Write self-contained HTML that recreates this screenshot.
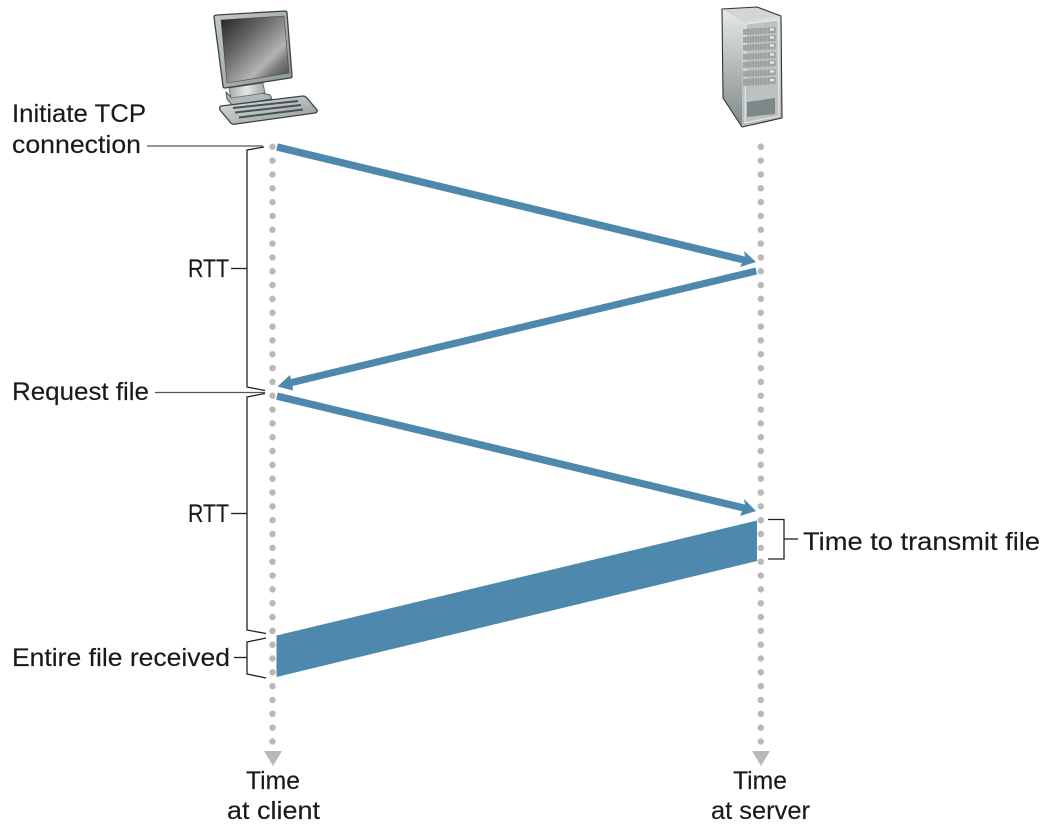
<!DOCTYPE html>
<html>
<head>
<meta charset="utf-8">
<style>
html,body{margin:0;padding:0;background:#fff;width:1044px;height:827px;overflow:hidden}
svg{display:block}
text{font-family:"Liberation Sans",sans-serif;font-size:25px;fill:#1a1a1a;stroke:#1a1a1a;stroke-width:.15px}
</style>
</head>
<body>
<svg width="1044" height="827" viewBox="0 0 1044 827" xmlns="http://www.w3.org/2000/svg">
<defs>
<linearGradient id="scr" x1="0" y1="0" x2="1" y2="1">
<stop offset="0" stop-color="#222"/><stop offset=".35" stop-color="#666"/><stop offset=".68" stop-color="#b4b4b4"/><stop offset=".8" stop-color="#777"/><stop offset="1" stop-color="#444"/>
</linearGradient>
<linearGradient id="bez" x1="0" y1="0" x2="1" y2="1">
<stop offset="0" stop-color="#c4caca"/><stop offset="1" stop-color="#8d9595"/>
</linearGradient>
<linearGradient id="kb" x1="0" y1="0" x2="1" y2="1">
<stop offset="0" stop-color="#dde1e1"/><stop offset="1" stop-color="#8f9898"/>
</linearGradient>
<linearGradient id="neck" x1="0" y1="0" x2="1" y2="0">
<stop offset="0" stop-color="#a8afaf"/><stop offset=".5" stop-color="#e4e7e7"/><stop offset="1" stop-color="#a0a8a8"/>
</linearGradient>
<linearGradient id="side" x1="0" y1="0" x2="0" y2="1">
<stop offset="0" stop-color="#e6e9e9"/><stop offset="1" stop-color="#7f8989"/>
</linearGradient>
<linearGradient id="front" x1="0" y1="0" x2="0" y2="1">
<stop offset="0" stop-color="#d9dddd"/><stop offset="1" stop-color="#b0b7b7"/>
</linearGradient>
<pattern id="rack" width="2.6" height="6" patternUnits="userSpaceOnUse">
<rect width="2.6" height="6" fill="#979e9e"/><rect width="1" height="6" fill="#adb3b3"/>
</pattern>
</defs>

<!-- Computer -->
<g stroke-linejoin="round">
<path d="M226 92 L231 97 L262 93 L270 95 L272 99 L232 105 L227 99 Z" fill="#b0b7b7" stroke="#555" stroke-width="1"/>
<path d="M229 88 L263 83 L265 93 L231 98 Z" fill="url(#neck)" stroke="#666" stroke-width=".8"/>
<path d="M214 17 Q214 15 217 15 L285 11 Q287 11 287 13 L292 76 Q292 78 290 78 L225 88 Q223 88 223 86 Z" fill="url(#bez)" stroke="#3d4343" stroke-width="1.300"/>
<path d="M221 20 L284 16 L289 73 L227 83 Z" fill="url(#scr)" stroke="#444" stroke-width=".6"/>
<path d="M221 106 L303 96 Q305 96 307 98 L317 110 Q318 112 315 113 L236 124 Q232 125 230 122 L220 110 Q219 107 221 106 Z" fill="url(#kb)" stroke="#3d4343" stroke-width="1.300"/>
<g stroke="#465056" stroke-width="2" fill="none">
<path d="M233 108 L298 101"/>
<path d="M235 112.500 L301 105"/>
<path d="M239 117.500 L303 109.500"/>
</g>
</g>

<!-- Server -->
<g stroke-linejoin="round">
<path d="M722 9 L757 7 L781 16 L743 22 Z" fill="#d2d6d6"/>
<path d="M722 9 L743 22 L742 127 L723 98 Z" fill="url(#side)"/>
<path d="M743 22 L781 16 L782 118 L742 127 Z" fill="url(#front)"/>
<path d="M722 9 L757 7 L781 16 L782 118 L742 127 L723 98 Z" fill="none" stroke="#333" stroke-width="1.100"/>
<path d="M746 24 L778 20 L779 116 L745 123 Z" fill="#bcc2c2" stroke="#eceeee" stroke-width="1"/>
<g fill="url(#rack)">
<path d="M743 29 L776 27 L776 33 L743 35 Z"/>
<path d="M743 37 L776 35 L776 41 L743 43 Z"/>
<path d="M743 45 L776 43 L776 49 L743 51 Z"/>
<path d="M743 54 L776 52 L776 58 L743 60 Z"/>
<path d="M743 62 L776 60 L776 66 L743 68 Z"/>
<path d="M743 71 L776 69 L776 75 L743 77 Z"/>
<path d="M743 79 L776 77 L776 84 L743 86 Z"/>
</g>
<g fill="#eef0f0">
<rect x="770" y="28.500" width="4" height="2"/><rect x="770" y="36.500" width="4" height="2"/><rect x="770" y="44.500" width="4" height="2"/><rect x="770" y="53.500" width="4" height="2"/><rect x="770" y="61.500" width="4" height="2"/><rect x="770" y="70.500" width="4" height="2"/><rect x="770" y="79" width="4" height="2"/>
</g>
<path d="M747 102 L775 98 L775 114 L747 117 Z" fill="#7f8888"/>
</g>

<!-- Dotted timelines -->
<g fill="none" stroke="#b9b9b9" stroke-width="6.500" stroke-linecap="round" stroke-dasharray="0 13.830">
<path d="M272.500 146.800 V745"/>
<path d="M760.800 146.800 V745"/>
</g>
<path d="M264 751 H282 L273 766 Z" fill="#b9b9b9"/>
<path d="M752 751 H770 L761 766 Z" fill="#b9b9b9"/>

<!-- Arrows -->
<g fill="#4e89ad">
<path d="M277.800 143.400 L745 256.500 L744 251 L756 262 L740 267 L742 263.300 L276.200 150.600 Z"/>
<path d="M755.600 267.500 L757 274.500 L292.500 386 L293 390.500 L277.500 386.500 L290 375 L291 379 Z"/>
<path d="M277.800 392.500 L745 504.500 L744 499 L756 511 L740 516 L742 511.300 L276.200 399.700 Z"/>
<path d="M757 520.500 V561 L276.500 677 V635.500 Z"/>
</g>

<!-- Brackets and leaders -->
<g fill="none" stroke="#222" stroke-width="1.300">
<path d="M264 147 L247 150 V387 L265 390.500"/>
<path d="M265 393.500 L247 397 V630 L266 633.500"/>
<path d="M266 638 L247 642 V674 L266 678"/>
<path d="M231 268.500 H247"/>
<path d="M231 513.500 H247"/>
<path d="M234 657.500 H247"/>
<path d="M768 519.500 H784 V559 H768"/>
<path d="M784 539 H798"/>
</g>
<g fill="none" stroke="#555" stroke-width="1.300">
<path d="M147 146 H263"/>
<path d="M155 392.500 H265"/>
</g>

<!-- Labels -->
<text x="12" y="122" textLength="134" lengthAdjust="spacingAndGlyphs">Initiate TCP</text>
<text x="12" y="153" textLength="129" lengthAdjust="spacingAndGlyphs">connection</text>
<text x="188" y="277" textLength="41" lengthAdjust="spacingAndGlyphs">RTT</text>
<text x="12" y="400" textLength="137" lengthAdjust="spacingAndGlyphs">Request file</text>
<text x="188" y="522" textLength="41" lengthAdjust="spacingAndGlyphs">RTT</text>
<text x="12" y="666" textLength="218" lengthAdjust="spacingAndGlyphs">Entire file received</text>
<text x="803" y="550" textLength="237" lengthAdjust="spacingAndGlyphs">Time to transmit file</text>
<text x="246" y="789" textLength="54" lengthAdjust="spacingAndGlyphs">Time</text>
<text x="227" y="819" textLength="93" lengthAdjust="spacingAndGlyphs">at client</text>
<text x="733" y="789" textLength="54" lengthAdjust="spacingAndGlyphs">Time</text>
<text x="711" y="819" textLength="99" lengthAdjust="spacingAndGlyphs">at server</text>
</svg>
</body>
</html>
